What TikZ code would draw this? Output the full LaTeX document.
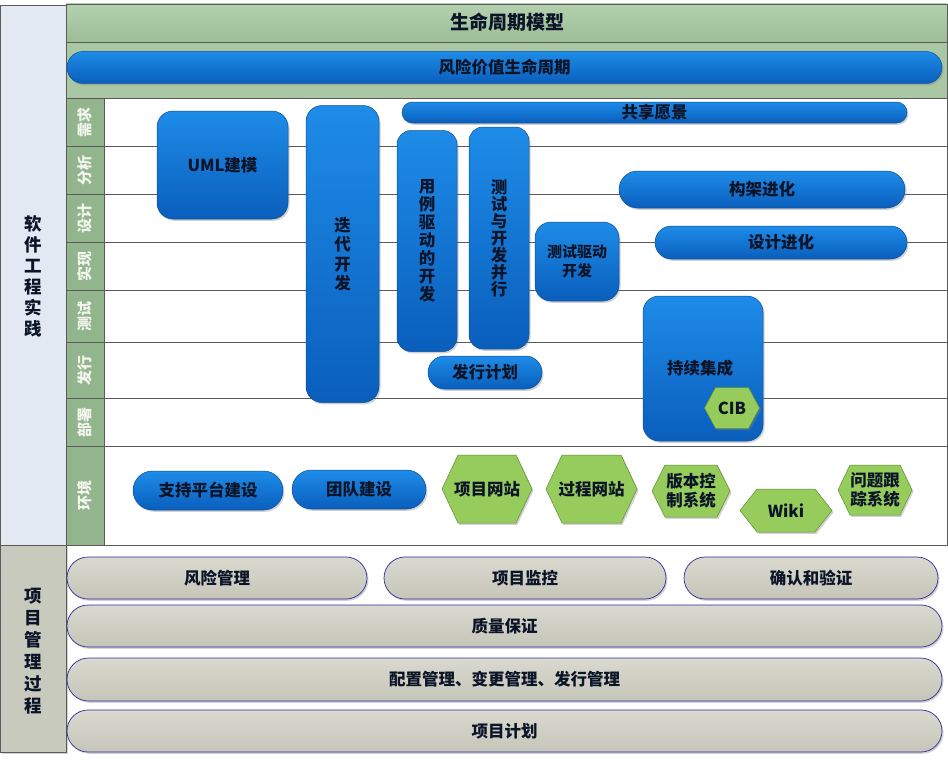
\documentclass[tikz,border=0pt]{standalone}
\usepackage{fontspec}
\setmainfont{Noto Sans CJK SC}
\usetikzlibrary{shapes.misc,shadows}
\definecolor{blueT}{HTML}{1E8CE8}
\definecolor{blueB}{HTML}{0A5EBC}
\definecolor{blueD}{HTML}{0C4F98}
\definecolor{txtc}{HTML}{0C1428}
\definecolor{hdrT}{HTML}{B3D1AE}
\definecolor{hdrB}{HTML}{9CBD96}
\definecolor{bandc}{HTML}{A8C7A2}
\definecolor{stagec}{HTML}{93B58D}
\definecolor{stagetxt}{HTML}{F2F6EE}
\definecolor{leftc}{HTML}{E3E9F3}
\definecolor{leftg}{HTML}{C8CABD}
\definecolor{grayT}{HTML}{D9D9CF}
\definecolor{grayB}{HTML}{C5C5B9}
\definecolor{grayD}{HTML}{2B2B9E}
\definecolor{hexc}{HTML}{95CC5C}
\definecolor{hexd}{HTML}{5F8E37}
\definecolor{gridc}{HTML}{5A5A5A}
\tikzset{
  sh/.style={drop shadow={opacity=0.35,shadow xshift=1.5pt,shadow yshift=-1.8pt}},
  bluebox/.style={rectangle,rounded corners=16pt,top color=blueT,bottom color=blueB,draw=blueD,line width=0.5pt,sh,
    text=txtc,font=\bfseries\fontsize{16.5}{19.5}\selectfont,align=center,inner sep=0pt},
  bluepill/.style={rounded rectangle,top color=blueT,bottom color=blueB,draw=blueD,line width=0.5pt,sh,
    text=txtc,font=\bfseries\fontsize{16.5}{19.5}\selectfont,align=center,inner sep=0pt},
  graypill/.style={rounded rectangle,top color=grayT,bottom color=grayB,draw=grayD,line width=0.7pt,sh,
    text=txtc,font=\bfseries\fontsize{16.5}{19.5}\selectfont,inner sep=0pt},
  hexs/.style={fill=hexc,draw=hexd,line width=0.5pt,sh},
  hextxt/.style={text=txtc,font=\bfseries\fontsize{16.5}{19}\selectfont,align=center,inner sep=0pt},
  stagelbl/.style={rotate=90,text=stagetxt,font=\bfseries\fontsize{15}{17}\selectfont,inner sep=0pt},
  gridline/.style={draw=gridc,line width=0.6pt},
  frame/.style={draw=gridc,line width=0.7pt}
}
\newcommand{\hexa}[7]{%
  \draw[hexs] (#2-#4/2,#3) -- (#2-#4/2+#6,#3-#5/2) -- (#2+#4/2-#6,#3-#5/2) -- (#2+#4/2,#3)
    -- (#2+#4/2-#6,#3+#5/2) -- (#2-#4/2+#6,#3+#5/2) -- cycle;
  \node[hextxt] (#1) at (#2,#3) {#7};}
\begin{document}
\begin{tikzpicture}[x=1pt,y=-1pt]
\useasboundingbox (0,0) rectangle (948,760);
\fill[white] (0,0) rectangle (948,760);
% left columns
\draw[frame,fill=leftc] (0.5,5) rectangle (66,545);
\node[font=\bfseries\fontsize{17.5}{21}\selectfont,align=center,text=txtc] (swe) at (33,276) {软\\件\\工\\程\\实\\践};
\draw[frame,fill=leftg,sh] (0.5,545) rectangle (66,752);
\node[font=\bfseries\fontsize{17.5}{22}\selectfont,align=center,text=txtc] (pm) at (33,651) {项\\目\\管\\理\\过\\程};
% header
\draw[frame,top color=hdrT,bottom color=hdrB] (66,4) rectangle (947,42);
\node[font=\bfseries\fontsize{19}{22}\selectfont,text=txtc] (title) at (507,22) {生命周期模型};
\draw[frame,fill=bandc] (66,42) rectangle (947,98);
\node[bluepill,minimum width=875pt,minimum height=32pt] (rvl) at (504.5,67.5) {风险价值生命周期};
% stage column and grid
\draw[frame,fill=white] (104,98) rectangle (947,545);
\draw[frame,fill=stagec] (66,98) rectangle (104,545);
\foreach \yy in {146,194,242,290,342,398,446}{\draw[gridline] (66,\yy) -- (947,\yy);}
\node[stagelbl] (s1) at (85,122) {需求};
\node[stagelbl] (s2) at (85,170) {分析};
\node[stagelbl] (s3) at (85,218) {设计};
\node[stagelbl] (s4) at (85,266) {实现};
\node[stagelbl] (s5) at (85,316) {测试};
\node[stagelbl] (s6) at (85,370) {发行};
\node[stagelbl] (s7) at (85,422) {部署};
\node[stagelbl] (s8) at (85,495.5) {环境};
% blue practices
\node[bluebox,minimum width=131pt,minimum height=108pt] (uml) at (222.5,165) {UML建模};
\node[bluebox,minimum width=73pt,minimum height=297pt] (iter) at (342.5,254) {迭\\代\\开\\发};
\node[bluepill,minimum width=505pt,minimum height=21pt] (vision) at (654.5,112.5) {共享愿景};
\node[bluebox,minimum width=60pt,minimum height=221pt,rounded corners=14pt,font=\bfseries\fontsize{16.5}{18}\selectfont] (ucdd) at (427,241) {用\\例\\驱\\动\\的\\开\\发};
\node[bluebox,minimum width=60pt,minimum height=222pt,rounded corners=14pt,font=\bfseries\fontsize{16.5}{17}\selectfont] (tpar) at (499,238) {测\\试\\与\\开\\发\\并\\行};
\node[bluebox,minimum width=84pt,minimum height=79pt,font=\bfseries\fontsize{15}{19}\selectfont] (tdd) at (577,261.5) {测试驱动\\开发};
\node[bluepill,minimum width=286pt,minimum height=37pt] (arch) at (762,189.5) {构架进化};
\node[bluepill,minimum width=252pt,minimum height=33pt] (design) at (781,242.5) {设计进化};
\node[bluepill,minimum width=114pt,minimum height=33pt] (rel) at (485,372.5) {发行计划};
\node[bluebox,minimum width=120pt,minimum height=145pt] (ci) at (703,368.5) {};
\node[text=txtc,font=\bfseries\fontsize{16.5}{19.5}\selectfont] (citxt) at (700,368) {持续集成};
\hexa{cib}{732}{408}{55}{41}{11}{CIB}
\node[bluepill,minimum width=150pt,minimum height=39pt] (plat) at (208,490.5) {支持平台建设};
\node[bluepill,minimum width=134pt,minimum height=39pt] (team) at (359,489.5) {团队建设};
\hexa{web}{487}{489}{90}{68}{16}{项目网站}
\hexa{proc}{591.5}{489}{91}{68}{16}{过程网站}
\hexa{vcs}{691}{491}{78}{52}{13}{版本控\\制系统}
\hexa{wiki}{786}{510.5}{92}{43}{17}{Wiki}
\hexa{its}{875}{490}{74}{50}{12}{问题跟\\踪系统}
% project management
\node[graypill,minimum width=300pt,minimum height=42pt] (risk) at (217,578) {风险管理};
\node[graypill,minimum width=282pt,minimum height=42pt] (mon) at (525,578) {项目监控};
\node[graypill,minimum width=254pt,minimum height=42pt] (vv) at (811,578) {确认和验证};
\node[graypill,minimum width=875pt,minimum height=42pt] (qa) at (504.5,626) {质量保证};
\node[graypill,minimum width=875pt,minimum height=43pt] (cm) at (504.5,679.5) {配置管理、变更管理、发行管理};
\node[graypill,minimum width=875pt,minimum height=42pt] (plan) at (504.5,731) {项目计划};
\end{tikzpicture}
\end{document}
